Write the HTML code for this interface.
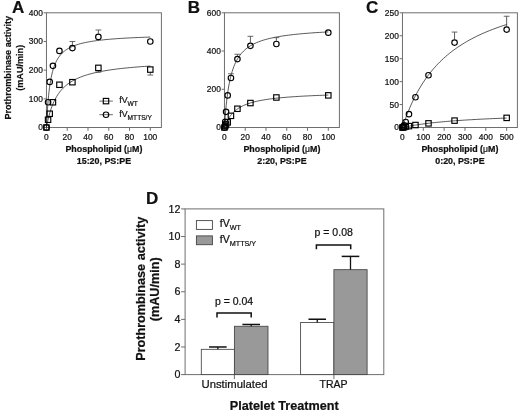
<!DOCTYPE html>
<html><head><meta charset="utf-8"><title>Figure</title>
<style>
html,body{margin:0;padding:0;background:#fff;}
svg{display:block;font-family:"Liberation Sans",sans-serif;fill:#111;}
svg text{stroke:#111;stroke-width:0.22px;}
</style></head><body>
<svg width="520" height="412" viewBox="0 0 520 412">
<rect x="0" y="0" width="520" height="412" fill="#fff"/>
<rect x="46.45" y="12.80" width="114.95" height="114.70" fill="none" stroke="#6e6e6e" stroke-width="1"/>
<line x1="43.65" y1="127.50" x2="46.45" y2="127.50" stroke="#6e6e6e" stroke-width="1" />
<text x="42.85" y="130.45" font-size="8.4" text-anchor="end" >0</text>
<line x1="43.65" y1="98.83" x2="46.45" y2="98.83" stroke="#6e6e6e" stroke-width="1" />
<text x="42.85" y="101.78" font-size="8.4" text-anchor="end" >100</text>
<line x1="43.65" y1="70.15" x2="46.45" y2="70.15" stroke="#6e6e6e" stroke-width="1" />
<text x="42.85" y="73.10" font-size="8.4" text-anchor="end" >200</text>
<line x1="43.65" y1="41.47" x2="46.45" y2="41.47" stroke="#6e6e6e" stroke-width="1" />
<text x="42.85" y="44.42" font-size="8.4" text-anchor="end" >300</text>
<line x1="43.65" y1="12.80" x2="46.45" y2="12.80" stroke="#6e6e6e" stroke-width="1" />
<text x="42.85" y="15.75" font-size="8.4" text-anchor="end" >400</text>
<line x1="46.45" y1="127.50" x2="46.45" y2="130.80" stroke="#6e6e6e" stroke-width="1" />
<text x="46.45" y="139.80" font-size="8.4" text-anchor="middle" >0</text>
<line x1="67.22" y1="127.50" x2="67.22" y2="130.80" stroke="#6e6e6e" stroke-width="1" />
<text x="67.22" y="139.80" font-size="8.4" text-anchor="middle" >20</text>
<line x1="87.99" y1="127.50" x2="87.99" y2="130.80" stroke="#6e6e6e" stroke-width="1" />
<text x="87.99" y="139.80" font-size="8.4" text-anchor="middle" >40</text>
<line x1="108.76" y1="127.50" x2="108.76" y2="130.80" stroke="#6e6e6e" stroke-width="1" />
<text x="108.76" y="139.80" font-size="8.4" text-anchor="middle" >60</text>
<line x1="129.53" y1="127.50" x2="129.53" y2="130.80" stroke="#6e6e6e" stroke-width="1" />
<text x="129.53" y="139.80" font-size="8.4" text-anchor="middle" >80</text>
<line x1="150.30" y1="127.50" x2="150.30" y2="130.80" stroke="#6e6e6e" stroke-width="1" />
<text x="150.30" y="139.80" font-size="8.4" text-anchor="middle" >100</text>
<text x="18.15" y="13.00" font-size="17" text-anchor="middle" font-weight="bold" >A</text>
<text x="103.93" y="152.30" font-size="8.9" text-anchor="middle" font-weight="bold" >Phospholipid (<tspan font-weight="normal" font-size="8.6">μ</tspan>M)</text>
<text x="103.93" y="164.30" font-size="8.9" text-anchor="middle" font-weight="bold" >15:20, PS:PE</text>
<polyline points="46.45,127.50 46.47,127.02 46.53,125.62 46.64,123.37 46.79,120.40 46.98,116.86 47.21,112.91 47.49,108.69 47.81,104.35 48.17,100.00 48.57,95.72 49.01,91.60 49.50,87.67 50.03,83.95 50.60,80.47 51.22,77.23 51.88,74.23 52.58,71.46 53.32,68.90 54.10,66.54 54.93,64.38 55.80,62.39 56.71,60.56 57.66,58.87 58.66,57.32 59.70,55.90 60.78,54.59 61.90,53.38 63.07,52.26 64.27,51.22 65.52,50.27 66.82,49.38 68.15,48.56 69.53,47.79 70.95,47.08 72.41,46.42 73.92,45.80 75.46,45.23 77.05,44.69 78.69,44.18 80.36,43.71 82.08,43.27 83.84,42.85 85.64,42.46 87.48,42.09 89.37,41.75 91.30,41.42 93.27,41.11 95.28,40.82 97.34,40.54 99.43,40.28 101.58,40.04 103.76,39.80 105.98,39.58 108.25,39.37 110.56,39.17 112.91,38.98 115.31,38.80 117.75,38.62 120.23,38.46 122.75,38.30 125.31,38.15 127.92,38.01 130.57,37.87 133.26,37.74 135.99,37.62 138.77,37.50 141.59,37.38 144.45,37.27 147.35,37.16 150.30,37.06" fill="none" stroke="#222" stroke-width="0.75"/>
<polyline points="46.45,127.50 46.47,127.38 46.53,127.03 46.64,126.46 46.79,125.68 46.98,124.69 47.21,123.53 47.49,122.21 47.81,120.74 48.17,119.17 48.57,117.50 49.01,115.75 49.50,113.96 50.03,112.14 50.60,110.29 51.22,108.45 51.88,106.63 52.58,104.82 53.32,103.05 54.10,101.32 54.93,99.64 55.80,98.01 56.71,96.43 57.66,94.91 58.66,93.44 59.70,92.04 60.78,90.69 61.90,89.41 63.07,88.17 64.27,87.00 65.52,85.88 66.82,84.80 68.15,83.78 69.53,82.81 70.95,81.88 72.41,81.00 73.92,80.16 75.46,79.36 77.05,78.59 78.69,77.87 80.36,77.17 82.08,76.51 83.84,75.88 85.64,75.28 87.48,74.71 89.37,74.17 91.30,73.65 93.27,73.15 95.28,72.67 97.34,72.22 99.43,71.78 101.58,71.37 103.76,70.97 105.98,70.59 108.25,70.23 110.56,69.88 112.91,69.55 115.31,69.23 117.75,68.92 120.23,68.62 122.75,68.34 125.31,68.07 127.92,67.81 130.57,67.56 133.26,67.32 135.99,67.09 138.77,66.86 141.59,66.65 144.45,66.44 147.35,66.25 150.30,66.05" fill="none" stroke="#222" stroke-width="0.75"/>
<line x1="72.41" y1="44.87" x2="72.41" y2="41.47" stroke="#333" stroke-width="0.8" />
<line x1="69.51" y1="41.47" x2="75.31" y2="41.47" stroke="#555" stroke-width="0.9" />
<line x1="98.38" y1="33.69" x2="98.38" y2="30.00" stroke="#333" stroke-width="0.8" />
<line x1="95.47" y1="30.00" x2="101.28" y2="30.00" stroke="#555" stroke-width="0.9" />
<line x1="150.30" y1="72.78" x2="150.30" y2="75.02" stroke="#333" stroke-width="0.8" />
<line x1="147.40" y1="75.02" x2="153.20" y2="75.02" stroke="#555" stroke-width="0.9" />
<line x1="98.38" y1="71.06" x2="98.38" y2="72.16" stroke="#333" stroke-width="0.8" />
<line x1="95.47" y1="72.16" x2="101.28" y2="72.16" stroke="#555" stroke-width="0.9" />
<rect x="43.75" y="124.80" width="5.4" height="5.4" fill="none" stroke="#000" stroke-width="1.15"/>
<rect x="45.37" y="117.06" width="5.4" height="5.4" fill="none" stroke="#000" stroke-width="1.15"/>
<rect x="47.00" y="111.04" width="5.4" height="5.4" fill="none" stroke="#000" stroke-width="1.15"/>
<rect x="50.24" y="99.57" width="5.4" height="5.4" fill="none" stroke="#000" stroke-width="1.15"/>
<rect x="56.73" y="82.07" width="5.4" height="5.4" fill="none" stroke="#000" stroke-width="1.15"/>
<rect x="69.71" y="79.49" width="5.4" height="5.4" fill="none" stroke="#000" stroke-width="1.15"/>
<rect x="95.67" y="65.16" width="5.4" height="5.4" fill="none" stroke="#000" stroke-width="1.15"/>
<rect x="147.60" y="66.88" width="5.4" height="5.4" fill="none" stroke="#000" stroke-width="1.15"/>
<circle cx="46.45" cy="127.50" r="2.75" fill="none" stroke="#000" stroke-width="1.15"/>
<circle cx="48.07" cy="102.27" r="2.75" fill="none" stroke="#000" stroke-width="1.15"/>
<circle cx="49.70" cy="81.91" r="2.75" fill="none" stroke="#000" stroke-width="1.15"/>
<circle cx="52.94" cy="65.85" r="2.75" fill="none" stroke="#000" stroke-width="1.15"/>
<circle cx="59.43" cy="50.94" r="2.75" fill="none" stroke="#000" stroke-width="1.15"/>
<circle cx="72.41" cy="48.07" r="2.75" fill="none" stroke="#000" stroke-width="1.15"/>
<circle cx="98.38" cy="36.89" r="2.75" fill="none" stroke="#000" stroke-width="1.15"/>
<circle cx="150.30" cy="41.47" r="2.75" fill="none" stroke="#000" stroke-width="1.15"/>
<rect x="224.45" y="12.80" width="114.95" height="114.70" fill="none" stroke="#6e6e6e" stroke-width="1"/>
<line x1="221.65" y1="127.50" x2="224.45" y2="127.50" stroke="#6e6e6e" stroke-width="1" />
<text x="220.85" y="130.45" font-size="8.4" text-anchor="end" >0</text>
<line x1="221.65" y1="89.27" x2="224.45" y2="89.27" stroke="#6e6e6e" stroke-width="1" />
<text x="220.85" y="92.22" font-size="8.4" text-anchor="end" >200</text>
<line x1="221.65" y1="51.03" x2="224.45" y2="51.03" stroke="#6e6e6e" stroke-width="1" />
<text x="220.85" y="53.98" font-size="8.4" text-anchor="end" >400</text>
<line x1="221.65" y1="12.80" x2="224.45" y2="12.80" stroke="#6e6e6e" stroke-width="1" />
<text x="220.85" y="15.75" font-size="8.4" text-anchor="end" >600</text>
<line x1="224.45" y1="127.50" x2="224.45" y2="130.80" stroke="#6e6e6e" stroke-width="1" />
<text x="224.45" y="139.80" font-size="8.4" text-anchor="middle" >0</text>
<line x1="245.22" y1="127.50" x2="245.22" y2="130.80" stroke="#6e6e6e" stroke-width="1" />
<text x="245.22" y="139.80" font-size="8.4" text-anchor="middle" >20</text>
<line x1="265.99" y1="127.50" x2="265.99" y2="130.80" stroke="#6e6e6e" stroke-width="1" />
<text x="265.99" y="139.80" font-size="8.4" text-anchor="middle" >40</text>
<line x1="286.76" y1="127.50" x2="286.76" y2="130.80" stroke="#6e6e6e" stroke-width="1" />
<text x="286.76" y="139.80" font-size="8.4" text-anchor="middle" >60</text>
<line x1="307.53" y1="127.50" x2="307.53" y2="130.80" stroke="#6e6e6e" stroke-width="1" />
<text x="307.53" y="139.80" font-size="8.4" text-anchor="middle" >80</text>
<line x1="328.30" y1="127.50" x2="328.30" y2="130.80" stroke="#6e6e6e" stroke-width="1" />
<text x="328.30" y="139.80" font-size="8.4" text-anchor="middle" >100</text>
<text x="193.80" y="13.00" font-size="17" text-anchor="middle" font-weight="bold" >B</text>
<text x="281.92" y="152.30" font-size="8.9" text-anchor="middle" font-weight="bold" >Phospholipid (<tspan font-weight="normal" font-size="8.6">μ</tspan>M)</text>
<text x="281.92" y="164.30" font-size="8.9" text-anchor="middle" font-weight="bold" >2:20, PS:PE</text>
<polyline points="224.45,127.50 224.47,127.16 224.53,126.14 224.64,124.49 224.79,122.27 224.98,119.56 225.21,116.45 225.49,113.03 225.81,109.39 226.17,105.62 226.57,101.78 227.01,97.96 227.50,94.19 228.03,90.52 228.60,86.97 229.22,83.58 229.88,80.34 230.58,77.28 231.32,74.38 232.10,71.66 232.93,69.10 233.80,66.71 234.71,64.47 235.66,62.38 236.66,60.42 237.70,58.59 238.78,56.89 239.90,55.30 241.07,53.81 242.27,52.43 243.52,51.13 244.82,49.92 246.15,48.78 247.53,47.72 248.95,46.72 250.41,45.79 251.92,44.92 253.46,44.09 255.05,43.32 256.69,42.59 258.36,41.91 260.08,41.26 261.84,40.66 263.64,40.08 265.48,39.54 267.37,39.03 269.30,38.54 271.27,38.08 273.28,37.65 275.34,37.23 277.43,36.84 279.58,36.47 281.76,36.12 283.98,35.78 286.25,35.46 288.56,35.16 290.91,34.87 293.31,34.59 295.75,34.32 298.23,34.07 300.75,33.83 303.31,33.60 305.92,33.38 308.57,33.17 311.26,32.97 313.99,32.77 316.77,32.59 319.59,32.41 322.45,32.24 325.35,32.07 328.30,31.92" fill="none" stroke="#222" stroke-width="0.75"/>
<polyline points="224.45,127.50 224.47,127.44 224.53,127.25 224.64,126.95 224.79,126.54 224.98,126.02 225.21,125.40 225.49,124.71 225.81,123.93 226.17,123.10 226.57,122.22 227.01,121.30 227.50,120.35 228.03,119.39 228.60,118.42 229.22,117.45 229.88,116.48 230.58,115.53 231.32,114.60 232.10,113.68 232.93,112.79 233.80,111.93 234.71,111.10 235.66,110.30 236.66,109.53 237.70,108.79 238.78,108.07 239.90,107.39 241.07,106.74 242.27,106.12 243.52,105.53 244.82,104.97 246.15,104.43 247.53,103.91 248.95,103.42 250.41,102.96 251.92,102.51 253.46,102.09 255.05,101.69 256.69,101.31 258.36,100.94 260.08,100.59 261.84,100.26 263.64,99.94 265.48,99.64 267.37,99.35 269.30,99.08 271.27,98.81 273.28,98.56 275.34,98.32 277.43,98.09 279.58,97.88 281.76,97.67 283.98,97.47 286.25,97.27 288.56,97.09 290.91,96.91 293.31,96.74 295.75,96.58 298.23,96.43 300.75,96.28 303.31,96.13 305.92,96.00 308.57,95.87 311.26,95.74 313.99,95.62 316.77,95.50 319.59,95.38 322.45,95.28 325.35,95.17 328.30,95.07" fill="none" stroke="#222" stroke-width="0.75"/>
<line x1="250.41" y1="42.67" x2="250.41" y2="36.31" stroke="#333" stroke-width="0.8" />
<line x1="247.51" y1="36.31" x2="253.31" y2="36.31" stroke="#555" stroke-width="0.9" />
<line x1="276.38" y1="40.76" x2="276.38" y2="37.65" stroke="#333" stroke-width="0.8" />
<line x1="273.48" y1="37.65" x2="279.27" y2="37.65" stroke="#555" stroke-width="0.9" />
<line x1="237.43" y1="55.86" x2="237.43" y2="54.28" stroke="#333" stroke-width="0.8" />
<line x1="234.53" y1="54.28" x2="240.33" y2="54.28" stroke="#555" stroke-width="0.9" />
<line x1="230.94" y1="74.79" x2="230.94" y2="73.78" stroke="#333" stroke-width="0.8" />
<line x1="228.04" y1="73.78" x2="233.84" y2="73.78" stroke="#555" stroke-width="0.9" />
<rect x="221.75" y="124.80" width="5.4" height="5.4" fill="none" stroke="#000" stroke-width="1.15"/>
<rect x="222.56" y="123.27" width="5.4" height="5.4" fill="none" stroke="#000" stroke-width="1.15"/>
<rect x="223.37" y="121.74" width="5.4" height="5.4" fill="none" stroke="#000" stroke-width="1.15"/>
<rect x="225.00" y="119.64" width="5.4" height="5.4" fill="none" stroke="#000" stroke-width="1.15"/>
<rect x="228.24" y="113.14" width="5.4" height="5.4" fill="none" stroke="#000" stroke-width="1.15"/>
<rect x="234.73" y="106.07" width="5.4" height="5.4" fill="none" stroke="#000" stroke-width="1.15"/>
<rect x="247.71" y="100.33" width="5.4" height="5.4" fill="none" stroke="#000" stroke-width="1.15"/>
<rect x="273.68" y="94.79" width="5.4" height="5.4" fill="none" stroke="#000" stroke-width="1.15"/>
<rect x="325.60" y="92.68" width="5.4" height="5.4" fill="none" stroke="#000" stroke-width="1.15"/>
<circle cx="224.45" cy="127.50" r="2.75" fill="none" stroke="#000" stroke-width="1.15"/>
<circle cx="225.26" cy="121.77" r="2.75" fill="none" stroke="#000" stroke-width="1.15"/>
<circle cx="226.07" cy="111.82" r="2.75" fill="none" stroke="#000" stroke-width="1.15"/>
<circle cx="227.70" cy="95.38" r="2.75" fill="none" stroke="#000" stroke-width="1.15"/>
<circle cx="230.94" cy="77.99" r="2.75" fill="none" stroke="#000" stroke-width="1.15"/>
<circle cx="237.43" cy="59.06" r="2.75" fill="none" stroke="#000" stroke-width="1.15"/>
<circle cx="250.41" cy="45.87" r="2.75" fill="none" stroke="#000" stroke-width="1.15"/>
<circle cx="276.38" cy="43.96" r="2.75" fill="none" stroke="#000" stroke-width="1.15"/>
<circle cx="328.30" cy="32.68" r="2.75" fill="none" stroke="#000" stroke-width="1.15"/>
<rect x="402.45" y="12.80" width="114.95" height="114.70" fill="none" stroke="#6e6e6e" stroke-width="1"/>
<line x1="399.65" y1="127.50" x2="402.45" y2="127.50" stroke="#6e6e6e" stroke-width="1" />
<text x="398.85" y="130.45" font-size="8.4" text-anchor="end" >0</text>
<line x1="399.65" y1="104.56" x2="402.45" y2="104.56" stroke="#6e6e6e" stroke-width="1" />
<text x="398.85" y="107.51" font-size="8.4" text-anchor="end" >50</text>
<line x1="399.65" y1="81.62" x2="402.45" y2="81.62" stroke="#6e6e6e" stroke-width="1" />
<text x="398.85" y="84.57" font-size="8.4" text-anchor="end" >100</text>
<line x1="399.65" y1="58.68" x2="402.45" y2="58.68" stroke="#6e6e6e" stroke-width="1" />
<text x="398.85" y="61.63" font-size="8.4" text-anchor="end" >150</text>
<line x1="399.65" y1="35.74" x2="402.45" y2="35.74" stroke="#6e6e6e" stroke-width="1" />
<text x="398.85" y="38.69" font-size="8.4" text-anchor="end" >200</text>
<line x1="399.65" y1="12.80" x2="402.45" y2="12.80" stroke="#6e6e6e" stroke-width="1" />
<text x="398.85" y="15.75" font-size="8.4" text-anchor="end" >250</text>
<line x1="402.45" y1="127.50" x2="402.45" y2="130.80" stroke="#6e6e6e" stroke-width="1" />
<text x="402.45" y="139.80" font-size="8.4" text-anchor="middle" >0</text>
<line x1="423.29" y1="127.50" x2="423.29" y2="130.80" stroke="#6e6e6e" stroke-width="1" />
<text x="423.29" y="139.80" font-size="8.4" text-anchor="middle" >100</text>
<line x1="444.13" y1="127.50" x2="444.13" y2="130.80" stroke="#6e6e6e" stroke-width="1" />
<text x="444.13" y="139.80" font-size="8.4" text-anchor="middle" >200</text>
<line x1="464.97" y1="127.50" x2="464.97" y2="130.80" stroke="#6e6e6e" stroke-width="1" />
<text x="464.97" y="139.80" font-size="8.4" text-anchor="middle" >300</text>
<line x1="485.81" y1="127.50" x2="485.81" y2="130.80" stroke="#6e6e6e" stroke-width="1" />
<text x="485.81" y="139.80" font-size="8.4" text-anchor="middle" >400</text>
<line x1="506.65" y1="127.50" x2="506.65" y2="130.80" stroke="#6e6e6e" stroke-width="1" />
<text x="506.65" y="139.80" font-size="8.4" text-anchor="middle" >500</text>
<text x="372.20" y="13.00" font-size="17" text-anchor="middle" font-weight="bold" >C</text>
<text x="459.92" y="152.30" font-size="8.9" text-anchor="middle" font-weight="bold" >Phospholipid (<tspan font-weight="normal" font-size="8.6">μ</tspan>M)</text>
<text x="459.92" y="164.30" font-size="8.9" text-anchor="middle" font-weight="bold" >0:20, PS:PE</text>
<polyline points="402.45,127.50 402.47,127.43 402.54,127.24 402.64,126.91 402.79,126.46 402.98,125.87 403.22,125.17 403.49,124.35 403.81,123.41 404.17,122.36 404.58,121.20 405.02,119.94 405.51,118.59 406.04,117.15 406.62,115.63 407.23,114.02 407.89,112.35 408.60,110.62 409.34,108.83 410.13,106.98 410.96,105.09 411.83,103.17 412.74,101.21 413.70,99.22 414.70,97.21 415.74,95.18 416.83,93.14 417.95,91.10 419.12,89.05 420.33,87.00 421.59,84.96 422.89,82.92 424.23,80.90 425.61,78.89 427.03,76.90 428.50,74.93 430.01,72.98 431.56,71.05 433.16,69.15 434.79,67.28 436.47,65.43 438.20,63.62 439.96,61.83 441.77,60.08 443.62,58.35 445.51,56.66 447.45,55.00 449.43,53.38 451.45,51.78 453.51,50.22 455.61,48.69 457.76,47.20 459.95,45.74 462.18,44.30 464.46,42.91 466.78,41.54 469.14,40.20 471.54,38.90 473.99,37.62 476.47,36.38 479.01,35.16 481.58,33.98 484.19,32.82 486.85,31.69 489.55,30.59 492.30,29.51 495.08,28.46 497.91,27.43 500.78,26.43 503.69,25.46 506.65,24.50" fill="none" stroke="#222" stroke-width="0.75"/>
<polyline points="402.45,127.50 402.47,127.50 402.54,127.48 402.64,127.46 402.79,127.43 402.98,127.38 403.22,127.33 403.49,127.27 403.81,127.21 404.17,127.13 404.58,127.05 405.02,126.95 405.51,126.85 406.04,126.75 406.62,126.63 407.23,126.51 407.89,126.38 408.60,126.25 409.34,126.11 410.13,125.97 410.96,125.82 411.83,125.67 412.74,125.51 413.70,125.35 414.70,125.19 415.74,125.02 416.83,124.86 417.95,124.69 419.12,124.51 420.33,124.34 421.59,124.16 422.89,123.99 424.23,123.81 425.61,123.63 427.03,123.45 428.50,123.27 430.01,123.10 431.56,122.92 433.16,122.74 434.79,122.57 436.47,122.39 438.20,122.22 439.96,122.05 441.77,121.88 443.62,121.71 445.51,121.54 447.45,121.37 449.43,121.21 451.45,121.05 453.51,120.89 455.61,120.73 457.76,120.57 459.95,120.42 462.18,120.27 464.46,120.12 466.78,119.97 469.14,119.83 471.54,119.69 473.99,119.55 476.47,119.41 479.01,119.28 481.58,119.14 484.19,119.01 486.85,118.89 489.55,118.76 492.30,118.64 495.08,118.52 497.91,118.40 500.78,118.28 503.69,118.17 506.65,118.05" fill="none" stroke="#222" stroke-width="0.75"/>
<line x1="454.55" y1="39.42" x2="454.55" y2="32.07" stroke="#333" stroke-width="0.8" />
<line x1="451.65" y1="32.07" x2="457.45" y2="32.07" stroke="#555" stroke-width="0.9" />
<line x1="506.65" y1="26.35" x2="506.65" y2="16.24" stroke="#333" stroke-width="0.8" />
<line x1="503.75" y1="16.24" x2="509.55" y2="16.24" stroke="#555" stroke-width="0.9" />
<rect x="399.75" y="124.80" width="5.4" height="5.4" fill="none" stroke="#000" stroke-width="1.15"/>
<rect x="400.56" y="124.57" width="5.4" height="5.4" fill="none" stroke="#000" stroke-width="1.15"/>
<rect x="401.38" y="124.34" width="5.4" height="5.4" fill="none" stroke="#000" stroke-width="1.15"/>
<rect x="403.00" y="123.88" width="5.4" height="5.4" fill="none" stroke="#000" stroke-width="1.15"/>
<rect x="406.26" y="123.42" width="5.4" height="5.4" fill="none" stroke="#000" stroke-width="1.15"/>
<rect x="412.77" y="122.32" width="5.4" height="5.4" fill="none" stroke="#000" stroke-width="1.15"/>
<rect x="425.80" y="120.67" width="5.4" height="5.4" fill="none" stroke="#000" stroke-width="1.15"/>
<rect x="451.85" y="117.92" width="5.4" height="5.4" fill="none" stroke="#000" stroke-width="1.15"/>
<rect x="503.95" y="115.17" width="5.4" height="5.4" fill="none" stroke="#000" stroke-width="1.15"/>
<circle cx="402.45" cy="127.50" r="2.75" fill="none" stroke="#000" stroke-width="1.15"/>
<circle cx="403.26" cy="126.58" r="2.75" fill="none" stroke="#000" stroke-width="1.15"/>
<circle cx="404.08" cy="125.21" r="2.75" fill="none" stroke="#000" stroke-width="1.15"/>
<circle cx="405.70" cy="121.99" r="2.75" fill="none" stroke="#000" stroke-width="1.15"/>
<circle cx="408.96" cy="114.19" r="2.75" fill="none" stroke="#000" stroke-width="1.15"/>
<circle cx="415.47" cy="97.22" r="2.75" fill="none" stroke="#000" stroke-width="1.15"/>
<circle cx="428.50" cy="75.20" r="2.75" fill="none" stroke="#000" stroke-width="1.15"/>
<circle cx="454.55" cy="42.62" r="2.75" fill="none" stroke="#000" stroke-width="1.15"/>
<circle cx="506.65" cy="29.55" r="2.75" fill="none" stroke="#000" stroke-width="1.15"/>
<text transform="translate(10.70,67.80) rotate(-90)" font-size="9.1" font-weight="bold" text-anchor="middle">Prothrombinase activity</text>
<text transform="translate(23.00,67.80) rotate(-90)" font-size="9.1" font-weight="bold" text-anchor="middle">(mAU/min)</text>
<line x1="99.40" y1="101.10" x2="112.90" y2="101.10" stroke="#444" stroke-width="0.8" />
<rect x="103.30" y="98.40" width="5.4" height="5.4" fill="none" stroke="#000" stroke-width="1.15"/>
<line x1="99.40" y1="114.70" x2="112.90" y2="114.70" stroke="#444" stroke-width="0.8" />
<circle cx="106" cy="114.70" r="2.75" fill="none" stroke="#000" stroke-width="1.15"/>
<text x="119.3" y="103.2" font-size="8.8">fV<tspan font-size="6.6" dy="2.9">WT</tspan></text>
<text x="119.3" y="116.6" font-size="8.8">fV<tspan font-size="6.6" dy="2.9">MTTS/Y</tspan></text>
<rect x="185.1" y="208.9" width="198.70" height="165.70" fill="none" stroke="#6e6e6e" stroke-width="1"/>
<line x1="181.10" y1="374.60" x2="185.10" y2="374.60" stroke="#6e6e6e" stroke-width="1" />
<text x="180.50" y="378.30" font-size="10.7" text-anchor="end" >0</text>
<line x1="181.10" y1="346.98" x2="185.10" y2="346.98" stroke="#6e6e6e" stroke-width="1" />
<text x="180.50" y="350.68" font-size="10.7" text-anchor="end" >2</text>
<line x1="181.10" y1="319.37" x2="185.10" y2="319.37" stroke="#6e6e6e" stroke-width="1" />
<text x="180.50" y="323.07" font-size="10.7" text-anchor="end" >4</text>
<line x1="181.10" y1="291.75" x2="185.10" y2="291.75" stroke="#6e6e6e" stroke-width="1" />
<text x="180.50" y="295.45" font-size="10.7" text-anchor="end" >6</text>
<line x1="181.10" y1="264.13" x2="185.10" y2="264.13" stroke="#6e6e6e" stroke-width="1" />
<text x="180.50" y="267.83" font-size="10.7" text-anchor="end" >8</text>
<line x1="181.10" y1="236.52" x2="185.10" y2="236.52" stroke="#6e6e6e" stroke-width="1" />
<text x="180.50" y="240.22" font-size="10.7" text-anchor="end" >10</text>
<line x1="181.10" y1="208.90" x2="185.10" y2="208.90" stroke="#6e6e6e" stroke-width="1" />
<text x="180.50" y="212.60" font-size="10.7" text-anchor="end" >12</text>
<line x1="234.40" y1="374.60" x2="234.40" y2="379.10" stroke="#6e6e6e" stroke-width="1" />
<line x1="333.90" y1="374.60" x2="333.90" y2="379.10" stroke="#6e6e6e" stroke-width="1" />
<rect x="201.3" y="349.33" width="33.10" height="25.27" fill="#fff" stroke="#444" stroke-width="0.85"/>
<line x1="217.85" y1="349.33" x2="217.85" y2="346.98" stroke="#111" stroke-width="1.3" />
<line x1="209.05" y1="346.98" x2="226.65" y2="346.98" stroke="#111" stroke-width="1.5" />
<rect x="234.4" y="326.27" width="33.60" height="48.33" fill="#999" stroke="#444" stroke-width="0.85"/>
<line x1="251.20" y1="326.27" x2="251.20" y2="324.48" stroke="#111" stroke-width="1.3" />
<line x1="242.40" y1="324.48" x2="260.00" y2="324.48" stroke="#111" stroke-width="1.5" />
<rect x="300.6" y="322.54" width="33.30" height="52.06" fill="#fff" stroke="#444" stroke-width="0.85"/>
<line x1="317.25" y1="322.54" x2="317.25" y2="319.23" stroke="#111" stroke-width="1.3" />
<line x1="308.45" y1="319.23" x2="326.05" y2="319.23" stroke="#111" stroke-width="1.5" />
<rect x="333.9" y="269.66" width="33.20" height="104.94" fill="#999" stroke="#444" stroke-width="0.85"/>
<line x1="350.50" y1="269.66" x2="350.50" y2="256.40" stroke="#111" stroke-width="1.3" />
<line x1="341.70" y1="256.40" x2="359.30" y2="256.40" stroke="#111" stroke-width="1.5" />
<polyline points="217,317.5 217,313 251.2,313 251.2,317.5" fill="none" stroke="#111" stroke-width="1.5"/>
<polyline points="316.4,249.2 316.4,245 350.7,245 350.7,249.2" fill="none" stroke="#111" stroke-width="1.5"/>
<text x="234.00" y="305.00" font-size="10.5" text-anchor="middle" >p = 0.04</text>
<text x="333.70" y="235.90" font-size="10.5" text-anchor="middle" >p = 0.08</text>
<text x="234.50" y="388.20" font-size="11.3" text-anchor="middle" >Unstimulated</text>
<text x="333.60" y="388.30" font-size="10.5" text-anchor="middle" >TRAP</text>
<text x="284.20" y="409.60" font-size="12.65" text-anchor="middle" font-weight="bold" >Platelet Treatment</text>
<text x="152.10" y="203.50" font-size="17" text-anchor="middle" font-weight="bold" >D</text>
<rect x="196.4" y="220.6" width="16" height="8.8" fill="#fff" stroke="#444" stroke-width="0.9"/>
<rect x="196.4" y="235.9" width="16" height="8.8" fill="#999" stroke="#444" stroke-width="0.9"/>
<text x="219.8" y="227.2" font-size="10.6">fV<tspan font-size="7.2" dy="2.9">WT</tspan></text>
<text x="219.8" y="242.6" font-size="10.6">fV<tspan font-size="7.2" dy="2.9">MTTS/Y</tspan></text>
<text transform="translate(144.8,288.8) rotate(-90)" font-size="12.65" font-weight="bold" text-anchor="middle">Prothrombinase activity</text>
<text transform="translate(159.4,289.3) rotate(-90)" font-size="12.65" font-weight="bold" text-anchor="middle">(mAU/min)</text>
</svg>
</body></html>
